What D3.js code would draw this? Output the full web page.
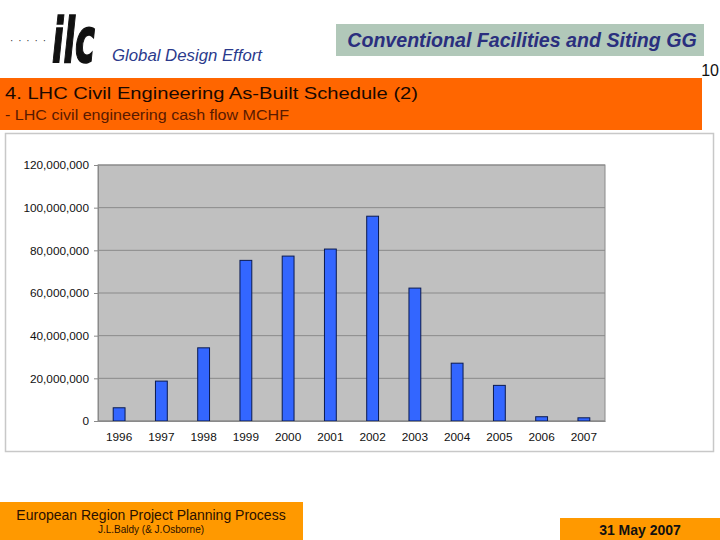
<!DOCTYPE html>
<html><head><meta charset="utf-8">
<script src="https://cdn.jsdelivr.net/npm/d3@7"></script>
<style>body{margin:0;background:#fff}svg{display:block}</style>
</head><body>
<script>
const years = ["1996","1997","1998","1999","2000","2001","2002","2003","2004","2005","2006","2007"];
const cashFlow = [6.2e6,18.7e6,34.3e6,75.3e6,77.3e6,80.6e6,96.0e6,62.3e6,27.1e6,16.7e6,2.0e6,1.5e6];
const yTicks = [0,20e6,40e6,60e6,80e6,100e6,120e6];

const svg = d3.select("body").append("svg").attr("width",720).attr("height",540);
const F = "Arial, 'Liberation Sans', sans-serif";

// header logo
svg.append("text").attr("x",10).attr("y",44).attr("font-family",F).attr("font-size",10).attr("fill","#333")
  .attr("textLength",36).attr("lengthAdjust","spacing").text("· · · · ·");
svg.append("text").attr("x",52).attr("y",62).attr("font-family","'DejaVu Sans Condensed', 'DejaVu Sans', sans-serif")
  .attr("font-weight","bold").attr("font-style","italic").attr("font-size",62).attr("fill","#111")
  .attr("stroke","#111").attr("stroke-width",1.5)
  .attr("textLength",43).attr("lengthAdjust","spacingAndGlyphs").text("ilc");
svg.append("text").attr("x",112).attr("y",61).attr("font-family",F).attr("font-style","italic")
  .attr("font-size",16.3).attr("fill","#2b3a8c")
  .attr("textLength",150).attr("lengthAdjust","spacingAndGlyphs").text("Global Design Effort");

// GG box
svg.append("rect").attr("x",336).attr("y",24).attr("width",368).attr("height",32).attr("fill","#b1c8b9");
svg.append("text").attr("x",522).attr("y",47).attr("text-anchor","middle").attr("font-family",F)
  .attr("font-weight","bold").attr("font-style","italic").attr("font-size",19.6).attr("fill","#2a2f7e")
  .text("Conventional Facilities and Siting GG");
svg.append("text").attr("x",719).attr("y",76).attr("text-anchor","end").attr("font-family",F)
  .attr("font-size",16).attr("fill","#111").text("10");

// title band
svg.append("rect").attr("x",0).attr("y",78).attr("width",702).attr("height",52).attr("fill","#ff6600");
svg.append("text").attr("x",5).attr("y",99).attr("font-family",F).attr("font-size",16.5).attr("fill","#1a0800")
  .attr("textLength",413).attr("lengthAdjust","spacingAndGlyphs")
  .text("4. LHC Civil Engineering As-Built Schedule (2)");
svg.append("text").attr("x",5).attr("y",119.5).attr("font-family",F).attr("font-size",14).attr("fill","#5a1a00")
  .attr("textLength",284).attr("lengthAdjust","spacingAndGlyphs")
  .text("- LHC civil engineering cash flow MCHF");

// chart frame
svg.append("rect").attr("x",5.5).attr("y",133.5).attr("width",708).attr("height",318).attr("fill","#fff")
  .attr("stroke","#c8c8c8").attr("stroke-width",1.5);

const m = {left:98, top:165, right:605, bottom:421};
const x = d3.scaleBand().domain(years).range([m.left,m.right]).paddingInner(0.72).paddingOuter(0.36);
const y = d3.scaleLinear().domain([0,120e6]).range([m.bottom,m.top]);

svg.append("rect").attr("x",m.left).attr("y",m.top).attr("width",m.right-m.left).attr("height",m.bottom-m.top)
  .attr("fill","#c0c0c0").attr("stroke","#8a8a8a");

svg.append("g").selectAll("line").data(yTicks).join("line")
  .attr("x1",m.left).attr("x2",m.right).attr("y1",d=>y(d)).attr("y2",d=>y(d))
  .attr("stroke","#8a8a8a").attr("stroke-width",1);

const yAxis = svg.append("g").attr("transform",`translate(${m.left},0)`)
  .call(d3.axisLeft(y).tickValues(yTicks).tickSize(4).tickPadding(5).tickFormat(d3.format(",")));
yAxis.select(".domain").attr("stroke","#8a8a8a");
yAxis.selectAll(".tick line").attr("stroke","#8a8a8a");
yAxis.selectAll("text").attr("font-family",F).attr("font-size",11.8).attr("fill","#111");

svg.append("g").selectAll("rect").data(cashFlow).join("rect")
  .attr("x",(d,i)=>x(years[i])).attr("width",x.bandwidth())
  .attr("y",d=>y(d)).attr("height",d=>y(0)-y(d))
  .attr("fill","#3366ff").attr("stroke","#0a1a50").attr("stroke-width",1);

const xAxis = svg.append("g").attr("transform",`translate(0,${m.bottom})`)
  .call(d3.axisBottom(x).tickSize(0).tickPadding(12));
xAxis.select(".domain").attr("stroke","#8a8a8a");
xAxis.selectAll("text").attr("font-family",F).attr("font-size",11.8).attr("fill","#111");

// footer
svg.append("rect").attr("x",0).attr("y",502).attr("width",303).attr("height",38).attr("fill","#ff9900");
svg.append("text").attr("x",151).attr("y",520).attr("text-anchor","middle").attr("font-family",F)
  .attr("font-size",14).attr("fill","#2a1000").text("European Region Project Planning Process");
svg.append("text").attr("x",151).attr("y",533).attr("text-anchor","middle").attr("font-family",F)
  .attr("font-size",10).attr("fill","#2a1000").text("J.L.Baldy (& J.Osborne)");
svg.append("rect").attr("x",560).attr("y",518).attr("width",160).attr("height",22).attr("fill","#ff9900");
svg.append("text").attr("x",640).attr("y",535).attr("text-anchor","middle").attr("font-family",F)
  .attr("font-weight","bold").attr("font-size",14).attr("fill","#111").text("31 May 2007");
</script>
</body></html>
